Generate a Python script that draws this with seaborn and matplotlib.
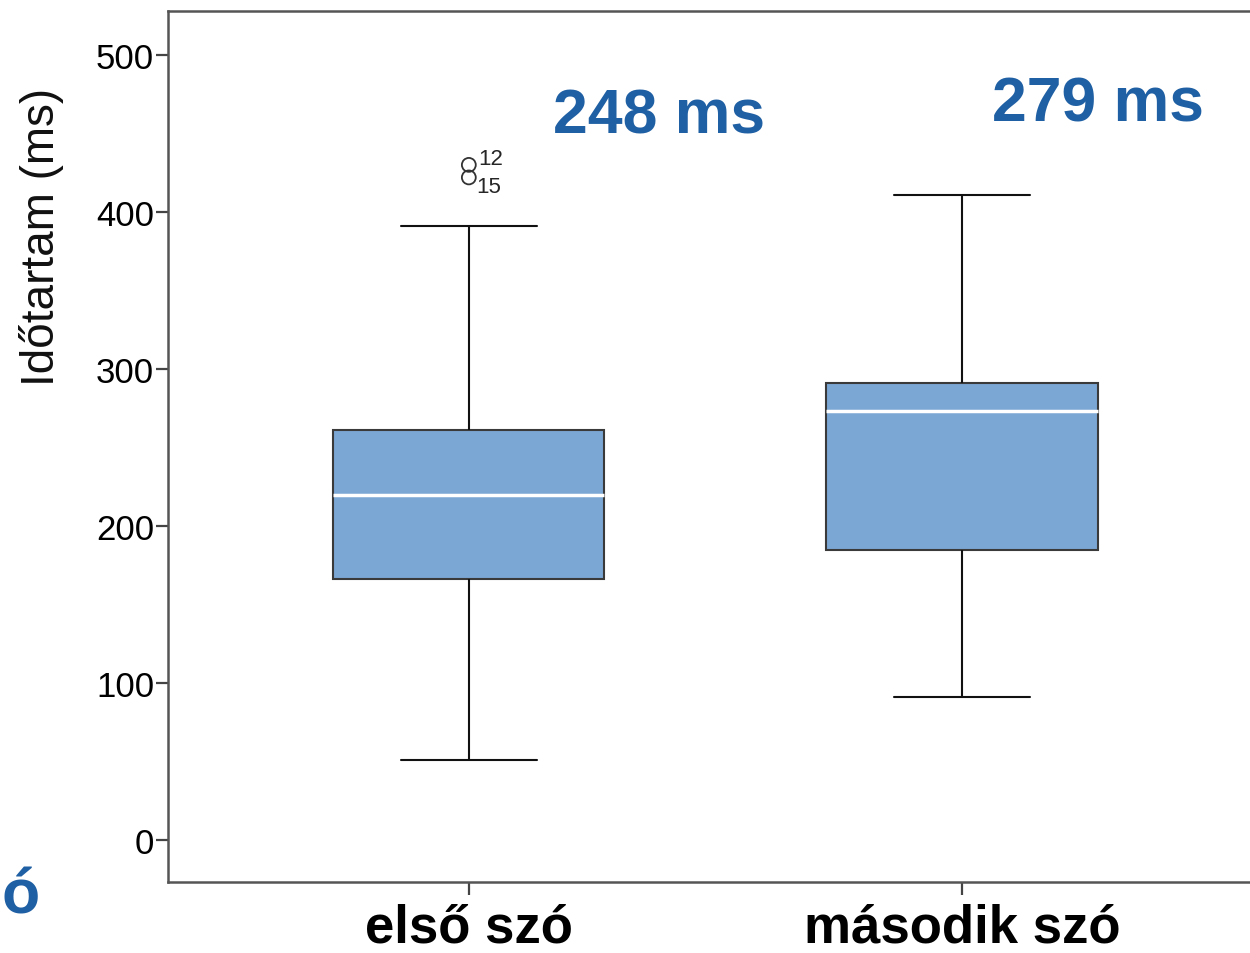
import matplotlib
matplotlib.use("Agg")
import matplotlib.pyplot as plt
import seaborn as sns
import pandas as pd

# five-number summaries (min whisker, Q1, median, Q3, max whisker)
groups = ["első szó", "második szó"]
first_word = [51, 166, 220, 261, 391]
second_word = [91, 185, 273, 291, 411]

# outliers of the first group and their case labels
outlier_vals = [430, 422]
outlier_ids = ["12", "15"]

mean_labels = ["248 ms", "279 ms"]
y_ticks = [0, 100, 200, 300, 400, 500]

box_color = "#7BA7D4"
blue_text = "#1F5FA3"

df = pd.DataFrame({
    "szó": [groups[0]] * len(first_word) + [groups[1]] * len(second_word),
    "ms": first_word + second_word,
})

sns.set_style("white")
plt.rcParams["font.family"] = ["Liberation Sans", "DejaVu Sans"]

fig = plt.figure(figsize=(12.5, 9.54), dpi=100)
ax = fig.add_axes([168 / 1250, 71 / 954, 1 - 168 / 1250, 871 / 954])

sns.boxplot(data=df, x="szó", y="ms", ax=ax, width=0.55, color=box_color,
            saturation=1, linecolor="#111111", linewidth=1.5, whis=1.5,
            fliersize=0,
            medianprops={"color": "white", "linewidth": 2.5},
            boxprops={"edgecolor": "#3a3a3a"})

# outliers drawn as hollow circles at the first category
ax.scatter([0, 0], outlier_vals, s=100, facecolors="none",
           edgecolors="#333333", linewidths=1.3, zorder=5)
ax.text(0.02, outlier_vals[0] + 4, outlier_ids[0], fontsize=16, va="center", ha="left")
ax.text(0.015, outlier_vals[1] - 6, outlier_ids[1], fontsize=16, va="center", ha="left")

ax.set_xlim(-0.61, 1.584)
ax.set_ylim(-26.75, 528)
ax.set_yticks(y_ticks)
ax.tick_params(axis="y", labelsize=25, length=9, width=1.6, direction="out",
               left=True, pad=1, colors="#444444", labelcolor="black")
ax.tick_params(axis="x", labelsize=38, length=9, width=1.6, direction="out",
               bottom=True, pad=6, colors="#444444", labelcolor="black")
for lbl in ax.get_xticklabels():
    lbl.set_fontweight("bold")
ax.set_xlabel("")
ax.set_ylabel("Időtartam (ms)", fontsize=33, color="#111111")
ax.yaxis.set_label_coords(-0.096, 0.742)

for side in ["left", "bottom", "top"]:
    ax.spines[side].set_color("#555555")
    ax.spines[side].set_linewidth(1.8)
ax.spines["right"].set_visible(False)

# mean annotations
ax.text(0.385, 461, mean_labels[0], fontsize=45, fontweight="bold",
        color=blue_text, ha="center", va="center")
ax.text(1.275, 469, mean_labels[1], fontsize=45, fontweight="bold",
        color=blue_text, ha="center", va="center")

# fragment of slide text at the lower left
fig.text(1 / 1250, 1 - 897 / 954, "ó", fontsize=45, fontweight="bold",
         color=blue_text, ha="left", va="center")

fig.savefig("out.png", dpi=100)
